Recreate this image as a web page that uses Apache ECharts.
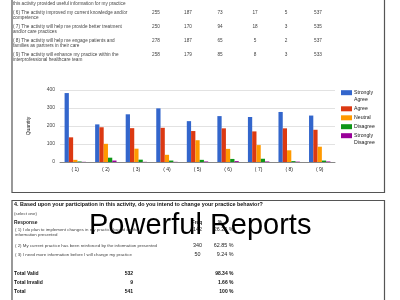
<!DOCTYPE html>
<html><head><meta charset="utf-8">
<script src="https://cdn.jsdelivr.net/npm/echarts@6/dist/echarts.min.js"></script>
<style>html,body{margin:0;padding:0;background:#fff;overflow:hidden}#c{width:400px;height:300px}</style>
</head><body><div id="c"></div>
<script>
// ---- chart data ----
const categories = ['( 1)', '( 2)', '( 3)', '( 4)', '( 5)', '( 6)', '( 7)', '( 8)', '( 9)'];
const seriesNames = ['Strongly Agree', 'Agree', 'Neutral', 'Disagree', 'Strongly Disagree'];
const seriesColors = ['#3366cc', '#dc3912', '#ff9900', '#109618', '#990099'];
const stronglyAgree = [383, 209, 265, 298, 227, 255, 250, 278, 258];
const agree = [137, 193, 188, 190, 172, 187, 170, 187, 179];
const neutral = [12, 101, 74, 40, 121, 73, 94, 65, 85];
const disagree = [3, 24, 13, 8, 12, 17, 18, 5, 8];
const stronglyDisagree = [1, 8, 1, 1, 3, 5, 3, 2, 3];
const yTicks = [0, 100, 200, 300, 400];

// ---- top table (rows 5-9) ----
const tableLabels = [
  ['', 'this activity provided useful information for my practice'],
  ['( 6) The activity improved my current knowledge and/or', 'competence'],
  ['( 7) The activity will help me provide better treatment', 'and/or care practices'],
  ['( 8) The activity will help me engage patients and', 'families as partners in their care'],
  ['( 9) The activity will enhance my practice within the', 'interprofessional healthcare team']
];
const tableValues = [
  [227, 172, 121, 12, 3, 535],
  [255, 187, 73, 17, 5, 537],
  [250, 170, 94, 18, 3, 535],
  [278, 187, 65, 5, 2, 537],
  [258, 179, 85, 8, 3, 533]
];

// ---- question 4 ----
const q4Title = '4. Based upon your participation in this activity, do you intend to change your practice behavior?';
const q4Sub = '(select one)';
const q4Labels = [
  ['( 1) I do plan to implement changes in my practice based on the', 'information presented'],
  ['( 2) My current practice has been reinforced by the information presented'],
  ['( 3) I need more information before I will change my practice']
];
const q4Freq = [142, 340, 50];
const q4Pct = ['26.25 %', '62.85 %', '9.24 %'];
const totalLabels = ['Total Valid', 'Total Invalid', 'Total'];
const totalCounts = [532, 9, 541];
const totalPct = ['98.34 %', '1.66 %', '100 %'];
const overlayTitle = 'Powerful Reports';

const FONT = "'Liberation Sans', Arial, Helvetica, sans-serif";
const chart = echarts.init(document.getElementById('c'));

const g = [];
function txt(x, y, text, size, opts) {
  opts = opts || {};
  g.push({
    type: 'text', x: x, y: y, z: opts.z || 10,
    style: {
      text: text, fill: opts.color || '#333',
      font: (opts.bold ? 'bold ' : '') + size + 'px ' + FONT,
      align: opts.align || 'left', verticalAlign: 'middle'
    }
  });
}
// boxes
g.push({type: 'rect', shape: {x: 12, y: -5, width: 372.5, height: 197.5}, style: {fill: 'none', stroke: '#555', lineWidth: 1.2}, z: 1});
g.push({type: 'rect', shape: {x: 12, y: 200.5, width: 372.5, height: 110}, style: {fill: 'none', stroke: '#555', lineWidth: 1.2}, z: 1});

// top table
const colX = [156, 188, 220, 255, 286, 318];
tableLabels.forEach(function (lines, i) {
  const y0 = -1.5 + i * 14;
  txt(13, y0, lines[0], 4.7, {color: '#444'});
  txt(13, y0 + 5, lines[1], 4.7, {color: '#444'});
  tableValues[i].forEach(function (v, j) {
    txt(colX[j], y0 + 0.5, String(v), 4.7, {color: '#444', align: 'center'});
  });
});

// legend (drawn from series names/colors)
const legendY = [92.7, 108.8, 117.8, 126.7, 135.7];
seriesNames.forEach(function (name, i) {
  g.push({type: 'rect', shape: {x: 341, y: legendY[i] - 2.5, width: 11, height: 5}, style: {fill: seriesColors[i]}, z: 10});
  const parts = name.indexOf('Strongly') === 0 ? ['Strongly', name.slice(9)] : [name];
  parts.forEach(function (p, k) {
    txt(354, legendY[i] + k * 6.8, p, 5.2, {color: '#222'});
  });
});

// question 4
txt(14, 205, q4Title, 5.4, {bold: true, color: '#111'});
txt(14, 213.5, q4Sub, 4.4, {color: '#444'});
txt(14, 223, 'Response', 4.9, {bold: true, color: '#222'});
txt(197, 223, 'Freq', 4.9, {bold: true, color: '#222', align: 'center'});
txt(220, 223, '%', 4.9, {bold: true, color: '#222', align: 'center'});
const q4Y = [229.5, 245.5, 254.3];
q4Labels.forEach(function (lines, i) {
  lines.forEach(function (l, k) { txt(15, q4Y[i] + k * 5, l, 4.4, {color: '#444'}); });
  txt(197.5, q4Y[i] + 0.3, String(q4Freq[i]), 5.4, {color: '#222', align: 'center'});
  txt(233.5, q4Y[i] + 0.3, q4Pct[i], 5.4, {color: '#222', align: 'right'});
});
const totY = [274, 282.7, 291.3];
totalLabels.forEach(function (l, i) {
  txt(14, totY[i], l, 5, {bold: true, color: '#111'});
  txt(133, totY[i], String(totalCounts[i]), 5, {bold: true, color: '#111', align: 'right'});
  txt(233.5, totY[i], totalPct[i], 5, {bold: true, color: '#111', align: 'right'});
});
// overlay title
txt(89, 226.3, overlayTitle, 29, {color: '#000', z: 50});

const seriesData = [stronglyAgree, agree, neutral, disagree, stronglyDisagree];
chart.setOption({
  animation: false,
  backgroundColor: '#fff',
  textStyle: {fontFamily: FONT},
  grid: {left: 60, right: 65, top: 90, bottom: 138, containLabel: false},
  xAxis: {
    type: 'category', data: categories,
    axisLine: {lineStyle: {color: '#888', width: 1}},
    axisTick: {show: false},
    axisLabel: {fontSize: 5, color: '#222', margin: 5}
  },
  yAxis: {
    type: 'value', min: yTicks[0], max: yTicks[yTicks.length - 1], interval: yTicks[1] - yTicks[0],
    name: 'Quantity', nameLocation: 'middle', nameGap: 29, nameRotate: 90,
    nameTextStyle: {fontSize: 5, color: '#222'},
    axisLine: {show: false}, axisTick: {show: false},
    axisLabel: {fontSize: 5, color: '#444', margin: 5},
    splitLine: {lineStyle: {color: '#e2e2e2', width: 1}}
  },
  series: seriesNames.map(function (n, i) {
    return {
      name: n, type: 'bar', data: seriesData[i],
      itemStyle: {color: seriesColors[i]},
      barGap: '0%', barCategoryGap: '30%'
    };
  }),
  graphic: g
});
</script></body></html>
